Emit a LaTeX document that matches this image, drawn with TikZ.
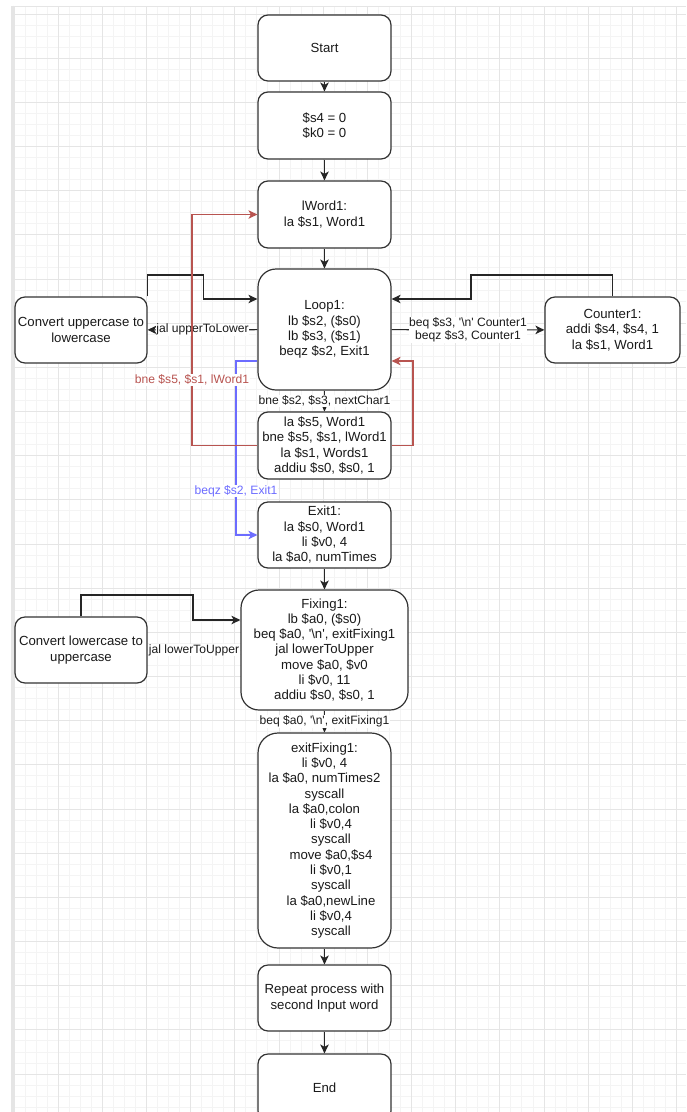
\documentclass[tikz,border=0pt]{standalone}
\usepackage{fontspec}
\newfontfamily\dfont{Liberation Sans}
\usetikzlibrary{arrows.meta}
\definecolor{redE}{HTML}{B85450}
\definecolor{blueE}{HTML}{6C6CFF}
\definecolor{gmin}{HTML}{F4F4F4}
\definecolor{gmaj}{HTML}{E5E5E5}
\definecolor{ink}{HTML}{1A1A1A}
\newcommand\ind{\hspace*{13pt}}
\tikzset{
  box/.style={draw=black!80, line width=1.2pt, fill=white, align=center, inner sep=0pt,
    text=ink, font=\dfont\fontsize{13.2}{15.3}\selectfont},
  arr/.style={draw=black!85, line width=1.2pt, -{Stealth[length=9pt,width=8.5pt,inset=2.5pt]}},
  lbl/.style={fill=white, inner sep=0.6pt, align=center, text=ink,
    font=\dfont\fontsize{12.1}{13.6}\selectfont}
}
\begin{document}
\begin{tikzpicture}[x=1pt,y=-1pt]
\useasboundingbox (0,0) rectangle (686,1112);
\fill[white] (0,0) rectangle (686,1112);
% grid
\foreach \i in {0,...,61} {\draw[gmin, line width=1pt] ({14+\i*11.0425},7) -- ({14+\i*11.0425},1112);}
\foreach \j in {0,...,99} {\draw[gmin, line width=1pt] (14,{14+\j*11.0425}) -- (686,{14+\j*11.0425});}
\foreach \i in {0,...,15} {\draw[gmaj, line width=1pt] ({14+\i*44.17},7) -- ({14+\i*44.17},1112);}
\foreach \j in {0,...,24} {\draw[gmaj, line width=1pt] (14,{14+\j*44.17}) -- (686,{14+\j*44.17});}
\draw[gmaj, line width=2.5pt] (12.5,5.5) -- (12.5,1112);
\draw[gmaj, line width=1.2pt] (11.5,6.3) -- (686,6.3);

% nodes
\node[box, minimum width=133pt, minimum height=66pt, rounded corners=10pt] (start) at (324.5,48) {Start};
\node[box, minimum width=133pt, minimum height=67pt, rounded corners=10pt] (init) at (324.5,125.5) {\$s4 = 0\\\$k0 = 0};
\node[box, minimum width=133pt, minimum height=67pt, rounded corners=10pt] (lword) at (324.5,214.5) {lWord1:\\la \$s1, Word1};
\node[box, minimum width=133pt, minimum height=121pt, rounded corners=18pt] (loop) at (324.5,329.5) {Loop1:\\lb \$s2, (\$s0)\\lb \$s3, (\$s1)\\beqz \$s2, Exit1};
\node[box, minimum width=132pt, minimum height=66pt, rounded corners=10pt] (convU) at (81,330) {Convert uppercase to\\lowercase};
\node[box, minimum width=135pt, minimum height=66pt, rounded corners=10pt] (counter) at (612.5,330) {Counter1:\\addi \$s4, \$s4, 1\\la \$s1, Word1};
\node[box, minimum width=133pt, minimum height=67pt, rounded corners=10pt] (next) at (324.5,445.5) {la \$s5, Word1\\bne \$s5, \$s1, lWord1\\la \$s1, Words1\\addiu \$s0, \$s0, 1};
\node[box, minimum width=133pt, minimum height=66pt, rounded corners=10pt] (exit) at (324.5,535) {Exit1:\\la \$s0, Word1\\li \$v0, 4\\la \$a0, numTimes};
\node[box, minimum width=167pt, minimum height=120pt, rounded corners=18pt] (fixing) at (324.5,650) {Fixing1:\\lb \$a0, (\$s0)\\beq \$a0, '\textbackslash n', exitFixing1\\jal lowerToUpper\\move \$a0, \$v0\\li \$v0, 11\\addiu \$s0, \$s0, 1};
\node[box, minimum width=132pt, minimum height=66pt, rounded corners=10pt] (convL) at (81,650) {Convert lowercase to\\uppercase};
\node[box, minimum width=133pt, minimum height=215pt, rounded corners=20pt] (exitfix) at (324.5,840.5) {exitFixing1:\\li \$v0, 4\\la \$a0, numTimes2\\syscall\\la \$a0,colon\\\ind li \$v0,4\\\ind syscall\\\ind move \$a0,\$s4\\\ind li \$v0,1\\\ind syscall\\\ind la \$a0,newLine\\\ind li \$v0,4\\\ind syscall};
\node[box, minimum width=133pt, minimum height=66pt, rounded corners=10pt] (repeat) at (324.5,998) {Repeat process with\\second Input word};
\node[box, minimum width=133pt, minimum height=67pt, rounded corners=10pt] (end) at (324.5,1087.5) {End};

% helper coordinates
\coordinate (cuT) at (203.5,275);
\coordinate (ctT) at (471,275);
\coordinate (clT) at (193,595);
\coordinate (rX) at (192,380);
\coordinate (rY) at (413,400);
\coordinate (bX) at (236,491);

% edges
\draw[arr] (start) -- (init);
\draw[arr] (init) -- (lword);
\draw[arr] (lword) -- (loop);
\draw[arr] (loop) -- node[lbl] {jal upperToLower} (convU);
\draw[arr] (convU.north east) |- (cuT) |- ([yshift=30.5pt]loop.west);
\draw[arr] (counter.north) |- (ctT) |- ([yshift=30.5pt]loop.east);
\draw[arr] (loop) -- node[lbl] {beq \$s3, '\textbackslash n' Counter1\\beqz \$s3, Counter1} (counter);
\draw[arr] (loop) -- node[lbl] {bne \$s2, \$s3, nextChar1} (next);

\draw[arr, draw=blueE] ([yshift=-31.5pt]loop.west) -| (bX) |- (exit.west);
\node[lbl, text=blueE] (blab) at (bX) {beqz \$s2, Exit1};

\draw[arr, draw=redE] (next.west) -| (rX) |- (lword.west);
\node[lbl, text=redE] (rlab) at (rX) {bne \$s5, \$s1, lWord1};
\draw[arr, draw=redE] (next.east) -| (rY) |- ([yshift=-31.5pt]loop.east);

\draw[arr] (exit) -- (fixing);
\draw[arr] (fixing) -- node[lbl] {jal lowerToUpper} (convL);
\draw[arr] (convL.north) |- (clT) |- ([yshift=30pt]fixing.west);
\draw[arr] (fixing) -- node[lbl] {beq \$a0, '\textbackslash n', exitFixing1} (exitfix);
\draw[arr] (exitfix) -- (repeat);
\draw[arr] (repeat) -- (end);
\end{tikzpicture}
\end{document}
